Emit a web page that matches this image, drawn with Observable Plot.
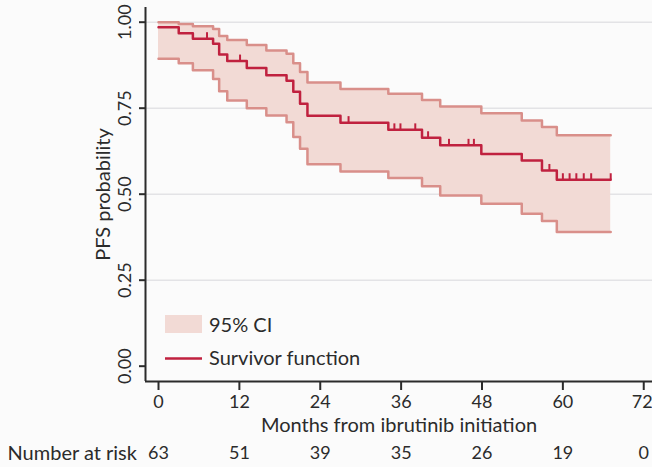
<!DOCTYPE html>
<html>
<head>
<meta charset="utf-8">
<script src="https://cdn.jsdelivr.net/npm/d3@7"></script>
<script src="https://cdn.jsdelivr.net/npm/@observablehq/plot@0.6"></script>
<style>
  html, body { margin: 0; padding: 0; background: #fbfbfb; }
  #chart { width: 652px; height: 467px; }
  svg { display: block; }
</style>
</head>
<body>
<div id="chart"></div>
<script>
// Kaplan–Meier step times (months) and values
const stepTimes = [0, 3.0, 5.1, 8.1, 9.0, 10.2, 13.1, 16.0, 19.0, 20.0, 21.0, 22.1, 27.0, 34.1, 39.1, 41.8, 47.9, 53.9, 56.9, 59.1];
const survival  = [0.985, 0.968, 0.952, 0.937, 0.906, 0.887, 0.867, 0.846, 0.830, 0.798, 0.763, 0.728, 0.708, 0.687, 0.664, 0.642, 0.617, 0.598, 0.569, 0.542];
const ciUpper   = [1.000, 0.995, 0.988, 0.980, 0.960, 0.948, 0.934, 0.918, 0.908, 0.881, 0.855, 0.825, 0.806, 0.792, 0.774, 0.755, 0.735, 0.714, 0.695, 0.671];
const ciLower   = [0.894, 0.881, 0.860, 0.835, 0.799, 0.772, 0.750, 0.729, 0.709, 0.666, 0.632, 0.587, 0.566, 0.547, 0.523, 0.496, 0.472, 0.443, 0.422, 0.390];
const endTime = 67.1;
const censorTimes = [7.2, 12.1, 28.2, 35.0, 35.9, 38.1, 40.0, 43.1, 46.0, 46.8, 58.0, 60.0, 61.0, 62.0, 63.1, 64.2, 67.1];
const xTicks = [0, 12, 24, 36, 48, 60, 72];
const riskTimes = [0, 12, 24, 36, 48, 60, 72];
const riskCounts = [63, 51, 39, 35, 26, 19, 0];
const yTicks = [0, 0.25, 0.5, 0.75, 1];
const gridTicks = [0.25, 0.5, 0.75, 1];
const legendLabels = ["95% CI", "Survivor function"];
const xTitle = "Months from ibrutinib initiation";
const yTitle = "PFS probability";
const riskTitle = "Number at risk";

const rows = stepTimes.map((t, i) => ({t, s: survival[i], lo: ciLower[i], hi: ciUpper[i]}));
const last = rows[rows.length - 1];
rows.push({t: endTime, s: last.s, lo: last.lo, hi: last.hi});
const survAt = t => { let v = survival[0]; stepTimes.forEach((st, i) => { if (st <= t) v = survival[i]; }); return v; };
const censors = censorTimes.map(t => ({t, s: survAt(t)}));
const risk = riskTimes.map((t, i) => ({t, n: riskCounts[i]}));
const xTicksInner = xTicks.slice(0, -1);
const xTickLast = xTicks.slice(-1);

const FILL = "#f2dad5", CI = "#d98f8a", SURV = "#c0213f", INK = "#2b2b2b";
const FONT = "Lato, 'Noto Sans', sans-serif";
const TXT = 20, NUM = 18;

const plot = Plot.plot({
  width: 652, height: 467,
  marginLeft: 145, marginRight: 0, marginTop: 7, marginBottom: 86,
  x: {domain: [-1.93, 73.3]},
  y: {domain: [-0.0445, 1.0427]},
  style: {fontFamily: FONT, fontSize: TXT + "px", background: "transparent", color: INK},
  marks: [
    Plot.ruleY(gridTicks, {stroke: "#e3e3e6", strokeWidth: 1.5}),
    Plot.areaY(rows, {x: "t", y1: "lo", y2: "hi", curve: "step-after", fill: FILL}),
    Plot.lineY(rows, {x: "t", y: "hi", curve: "step-after", stroke: CI, strokeWidth: 2.5}),
    Plot.lineY(rows, {x: "t", y: "lo", curve: "step-after", stroke: CI, strokeWidth: 2.5}),
    Plot.lineY(rows, {x: "t", y: "s", curve: "step-after", stroke: SURV, strokeWidth: 2.5}),
    Plot.ruleX(censors, {x: "t", y1: "s", y2: "s", insetTop: -6, stroke: SURV, strokeWidth: 2}),
    Plot.ruleX([-1.93], {stroke: INK, strokeWidth: 2}),
    Plot.ruleY([-0.0445], {stroke: INK, strokeWidth: 2}),
    Plot.axisX({ticks: xTicks, tickSize: 9, tickFormat: () => "", label: null, stroke: INK, strokeWidth: 2}),
    Plot.axisY({ticks: yTicks, tickSize: 6, tickFormat: () => "", label: null, stroke: INK, strokeWidth: 2}),
    Plot.text(xTicksInner, {x: d => d, text: d => String(d), frameAnchor: "bottom", dy: 21, lineAnchor: "middle", fontSize: NUM, fill: INK}),
    Plot.text(xTickLast, {x: d => d, text: d => String(d), frameAnchor: "bottom", dy: 21, dx: 9, textAnchor: "end", lineAnchor: "middle", fontSize: NUM, fill: INK}),
    Plot.text(yTicks, {y: d => d, text: d => d3.format(".2f")(d), frameAnchor: "left", dx: -20, rotate: -90, textAnchor: "middle", lineAnchor: "middle", fontSize: NUM, fill: INK}),
    Plot.text([yTitle], {frameAnchor: "left", dx: -42, rotate: -90, textAnchor: "middle", lineAnchor: "middle", fontSize: TXT, fill: INK}),
    Plot.text([xTitle], {frameAnchor: "bottom", dy: 44, lineAnchor: "middle", fontSize: TXT, fill: INK}),
    Plot.text(risk, {x: "t", text: "n", frameAnchor: "bottom", dy: 72, lineAnchor: "middle", fontSize: NUM, fill: INK}),
    Plot.text([riskTitle], {frameAnchor: "bottom-left", dx: -138, dy: 72, textAnchor: "start", lineAnchor: "middle", fontSize: TXT, fill: INK})
  ]
});
document.getElementById("chart").appendChild(plot);

// legend inside the plot area
const svg = d3.select(plot);
const lg = svg.append("g").attr("font-family", FONT).attr("font-size", TXT).attr("fill", INK).attr("text-anchor", "start");
lg.append("rect").attr("x", 165).attr("y", 315).attr("width", 37).attr("height", 18).attr("fill", FILL);
lg.append("line").attr("x1", 165).attr("x2", 202).attr("y1", 358.5).attr("y2", 358.5).attr("stroke", SURV).attr("stroke-width", 2.5);
lg.selectAll("text").data(legendLabels).join("text")
  .attr("x", 209).attr("y", (d, i) => i === 0 ? 324.5 : 358)
  .attr("dy", "0.35em").attr("text-anchor", "start").text(d => d);
</script>
</body>
</html>
